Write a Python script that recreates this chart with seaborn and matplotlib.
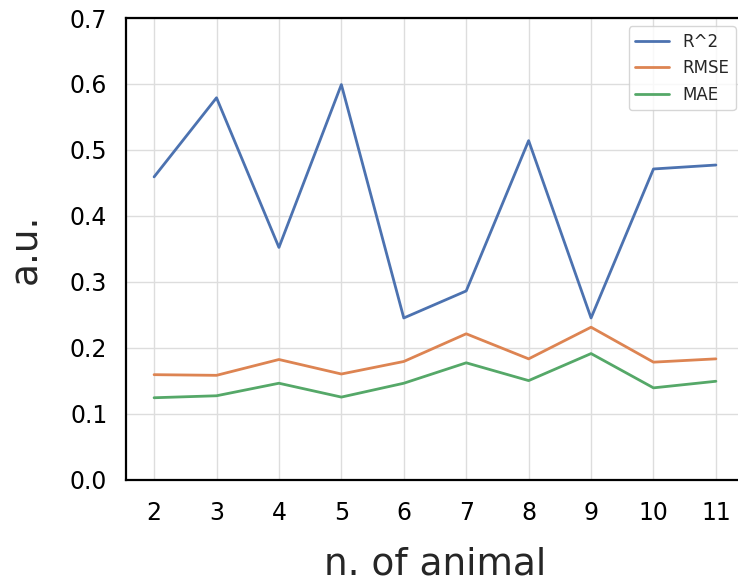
import matplotlib
matplotlib.use("Agg")
import matplotlib.pyplot as plt
import seaborn as sns
import pandas as pd

n_animals = [2, 3, 4, 5, 6, 7, 8, 9, 10, 11]
r2 = [0.459, 0.579, 0.352, 0.599, 0.245, 0.286, 0.514, 0.245, 0.471, 0.477]
rmse = [0.159, 0.158, 0.182, 0.160, 0.179, 0.221, 0.183, 0.231, 0.178, 0.183]
mae = [0.124, 0.127, 0.146, 0.125, 0.146, 0.177, 0.150, 0.191, 0.139, 0.149]

df = pd.DataFrame({
    "n": n_animals * 3,
    "value": r2 + rmse + mae,
    "metric": ["R^2"] * len(n_animals) + ["RMSE"] * len(n_animals) + ["MAE"] * len(n_animals),
})

sns.set_theme(style="whitegrid", rc={"axes.edgecolor": "black", "axes.linewidth": 1.6,
                                     "grid.color": "#dddddd"})
plt.rcParams["font.family"] = ["DejaVu Sans"]

fig = plt.figure(figsize=(7.38, 5.8), dpi=100)
ax = fig.add_axes([126 / 738, 1 - 479.5 / 580, (744 - 126) / 738, (479.5 - 18) / 580])

sns.lineplot(data=df, x="n", y="value", hue="metric", ax=ax, linewidth=2.0,
             palette=sns.color_palette("deep", 3))

ax.set_ylim(0, 0.7)
ax.set_xticks(n_animals)
ax.set_yticks([0.0, 0.1, 0.2, 0.3, 0.4, 0.5, 0.6, 0.7])
ax.set_yticklabels([f"{v:.1f}" for v in ax.get_yticks()])
ax.tick_params(axis="both", labelsize=17, colors="black")
ax.tick_params(axis="y", pad=7.5)
ax.tick_params(axis="x", pad=9.8)
ax.set_xlabel("n. of animal", fontsize=27, color="#262626", labelpad=15)
ax.set_ylabel("a.u.", fontsize=27, color="#262626", labelpad=18.5)

leg = ax.legend(loc="upper right", fontsize=12, title=None)

fig.savefig("out.png", dpi=100)
